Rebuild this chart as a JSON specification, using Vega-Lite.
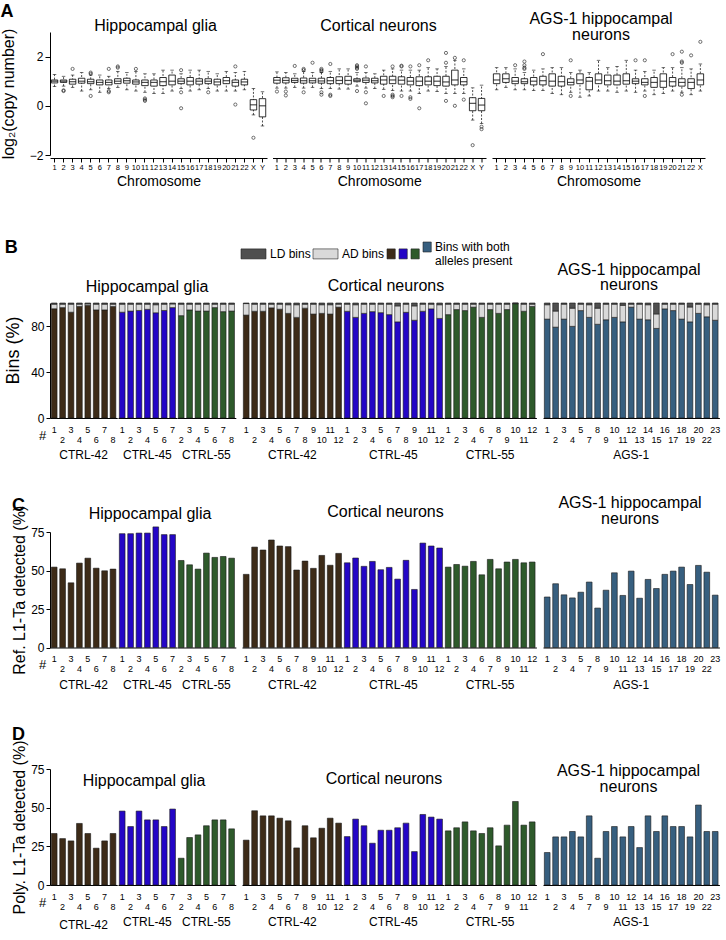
{
"$schema":"https://vega.github.io/schema/vega-lite/v6.json",
"padding":{"left":0,"top":3,"right":2,"bottom":2},
"config":{"font":"Liberation Sans","view":{"stroke":null},
 "axis":{"domainColor":"#000","tickColor":"#000","labelColor":"#000","titleColor":"#000","grid":false,"titleFontWeight":"normal","domainWidth":1,"labelFont":"Liberation Sans","titleFont":"Liberation Sans"},
 "title":{"fontWeight":"normal","color":"#000","fontSize":16,"font":"Liberation Sans"},
 "bar":{"stroke":"#1a1a1a","strokeWidth":0.6},
 "scale":{"bandPaddingInner":0.32,"bandPaddingOuter":0.16}},
"datasets":{
"box":[
{"p":"glia","chr":"1","lo":0.78,"q1":0.93,"med":1.0,"q3":1.05,"hi":1.27},
{"p":"glia","chr":"2","lo":0.8,"q1":0.95,"med":1.0,"q3":1.05,"hi":1.2},
{"p":"glia","chr":"3","lo":0.75,"q1":0.88,"med":0.98,"q3":1.08,"hi":1.25},
{"p":"glia","chr":"4","lo":0.6,"q1":0.92,"med":1.0,"q3":1.12,"hi":1.35},
{"p":"glia","chr":"5","lo":0.65,"q1":0.9,"med":0.98,"q3":1.08,"hi":1.25},
{"p":"glia","chr":"6","lo":0.55,"q1":0.85,"med":0.95,"q3":1.05,"hi":1.25},
{"p":"glia","chr":"7","lo":0.7,"q1":0.85,"med":0.95,"q3":1.05,"hi":1.2},
{"p":"glia","chr":"8","lo":0.75,"q1":0.9,"med":1.0,"q3":1.1,"hi":1.4},
{"p":"glia","chr":"9","lo":0.65,"q1":0.92,"med":1.02,"q3":1.12,"hi":1.35},
{"p":"glia","chr":"10","lo":0.6,"q1":0.88,"med":0.97,"q3":1.05,"hi":1.4},
{"p":"glia","chr":"11","lo":0.55,"q1":0.82,"med":0.95,"q3":1.05,"hi":1.3},
{"p":"glia","chr":"12","lo":0.5,"q1":0.8,"med":0.95,"q3":1.05,"hi":1.3},
{"p":"glia","chr":"13","lo":0.5,"q1":0.82,"med":0.98,"q3":1.15,"hi":1.45},
{"p":"glia","chr":"14","lo":0.6,"q1":0.85,"med":1.0,"q3":1.25,"hi":1.45},
{"p":"glia","chr":"15","lo":0.7,"q1":0.9,"med":1.0,"q3":1.1,"hi":1.3},
{"p":"glia","chr":"16","lo":0.6,"q1":0.85,"med":1.0,"q3":1.15,"hi":1.45},
{"p":"glia","chr":"17","lo":0.65,"q1":0.88,"med":1.0,"q3":1.1,"hi":1.45},
{"p":"glia","chr":"18","lo":0.7,"q1":0.9,"med":1.0,"q3":1.1,"hi":1.4},
{"p":"glia","chr":"19","lo":0.6,"q1":0.85,"med":0.97,"q3":1.08,"hi":1.3},
{"p":"glia","chr":"20","lo":0.6,"q1":0.9,"med":1.02,"q3":1.15,"hi":1.4},
{"p":"glia","chr":"21","lo":0.6,"q1":0.8,"med":0.95,"q3":1.05,"hi":1.35},
{"p":"glia","chr":"22","lo":0.65,"q1":0.85,"med":0.97,"q3":1.08,"hi":1.4},
{"p":"glia","chr":"X","lo":-0.37,"q1":-0.17,"med":0.04,"q3":0.25,"hi":0.7},
{"p":"glia","chr":"Y","lo":-0.82,"q1":-0.45,"med":0.0,"q3":0.29,"hi":0.57},
{"p":"ctx","chr":"1","lo":0.72,"q1":0.92,"med":1.04,"q3":1.15,"hi":1.38},
{"p":"ctx","chr":"2","lo":0.72,"q1":0.93,"med":1.03,"q3":1.14,"hi":1.35},
{"p":"ctx","chr":"3","lo":0.75,"q1":0.95,"med":1.03,"q3":1.12,"hi":1.3},
{"p":"ctx","chr":"4","lo":0.72,"q1":0.92,"med":1.02,"q3":1.13,"hi":1.4},
{"p":"ctx","chr":"5","lo":0.75,"q1":0.93,"med":1.02,"q3":1.12,"hi":1.35},
{"p":"ctx","chr":"6","lo":0.7,"q1":0.92,"med":1.01,"q3":1.12,"hi":1.35},
{"p":"ctx","chr":"7","lo":0.7,"q1":0.9,"med":1.02,"q3":1.15,"hi":1.4},
{"p":"ctx","chr":"8","lo":0.68,"q1":0.9,"med":1.03,"q3":1.18,"hi":1.5},
{"p":"ctx","chr":"9","lo":0.68,"q1":0.88,"med":1.03,"q3":1.2,"hi":1.5},
{"p":"ctx","chr":"10","lo":0.8,"q1":0.98,"med":1.04,"q3":1.1,"hi":1.35},
{"p":"ctx","chr":"11","lo":0.72,"q1":0.95,"med":1.04,"q3":1.13,"hi":1.35},
{"p":"ctx","chr":"12","lo":0.7,"q1":0.93,"med":1.02,"q3":1.12,"hi":1.3},
{"p":"ctx","chr":"13","lo":0.67,"q1":0.88,"med":1.05,"q3":1.2,"hi":1.45},
{"p":"ctx","chr":"14","lo":0.62,"q1":0.9,"med":1.05,"q3":1.2,"hi":1.5},
{"p":"ctx","chr":"15","lo":0.6,"q1":0.88,"med":1.04,"q3":1.18,"hi":1.45},
{"p":"ctx","chr":"16","lo":0.6,"q1":0.85,"med":1.0,"q3":1.15,"hi":1.45},
{"p":"ctx","chr":"17","lo":0.5,"q1":0.82,"med":1.0,"q3":1.18,"hi":1.45},
{"p":"ctx","chr":"18","lo":0.6,"q1":0.85,"med":1.0,"q3":1.18,"hi":1.55},
{"p":"ctx","chr":"19","lo":0.58,"q1":0.82,"med":1.0,"q3":1.2,"hi":1.5},
{"p":"ctx","chr":"20","lo":0.5,"q1":0.8,"med":0.97,"q3":1.2,"hi":1.6},
{"p":"ctx","chr":"21","lo":0.5,"q1":0.85,"med":1.05,"q3":1.45,"hi":1.85},
{"p":"ctx","chr":"22","lo":0.5,"q1":0.85,"med":0.98,"q3":1.15,"hi":1.5},
{"p":"ctx","chr":"X","lo":-0.58,"q1":-0.2,"med":0.1,"q3":0.33,"hi":0.73},
{"p":"ctx","chr":"Y","lo":-0.72,"q1":-0.2,"med":0.03,"q3":0.3,"hi":0.84},
{"p":"ags","chr":"1","lo":0.65,"q1":0.9,"med":1.05,"q3":1.3,"hi":1.55},
{"p":"ags","chr":"2","lo":0.75,"q1":0.95,"med":1.1,"q3":1.3,"hi":1.55},
{"p":"ags","chr":"3","lo":0.65,"q1":0.9,"med":1.0,"q3":1.15,"hi":1.5},
{"p":"ags","chr":"4","lo":0.65,"q1":0.9,"med":0.98,"q3":1.1,"hi":1.35},
{"p":"ags","chr":"5","lo":0.62,"q1":0.85,"med":1.0,"q3":1.15,"hi":1.45},
{"p":"ags","chr":"6","lo":0.62,"q1":0.85,"med":1.02,"q3":1.2,"hi":1.5},
{"p":"ags","chr":"7","lo":0.5,"q1":0.8,"med":1.0,"q3":1.3,"hi":1.55},
{"p":"ags","chr":"8","lo":0.45,"q1":0.8,"med":0.98,"q3":1.2,"hi":1.55},
{"p":"ags","chr":"9","lo":0.55,"q1":0.85,"med":0.95,"q3":1.1,"hi":1.35},
{"p":"ags","chr":"10","lo":0.35,"q1":0.9,"med":1.05,"q3":1.3,"hi":1.45},
{"p":"ags","chr":"11","lo":0.4,"q1":0.65,"med":1.0,"q3":1.15,"hi":1.35},
{"p":"ags","chr":"12","lo":0.6,"q1":0.9,"med":1.05,"q3":1.3,"hi":1.85},
{"p":"ags","chr":"13","lo":0.6,"q1":0.85,"med":1.02,"q3":1.25,"hi":1.55},
{"p":"ags","chr":"14","lo":0.55,"q1":0.85,"med":1.0,"q3":1.25,"hi":1.6},
{"p":"ags","chr":"15","lo":0.6,"q1":0.88,"med":1.02,"q3":1.3,"hi":1.85},
{"p":"ags","chr":"16","lo":0.55,"q1":0.9,"med":1.0,"q3":1.1,"hi":1.45},
{"p":"ags","chr":"17","lo":0.6,"q1":0.85,"med":0.95,"q3":1.1,"hi":1.4},
{"p":"ags","chr":"18","lo":0.45,"q1":0.75,"med":0.95,"q3":1.15,"hi":1.45},
{"p":"ags","chr":"19","lo":0.5,"q1":0.75,"med":1.0,"q3":1.3,"hi":1.55},
{"p":"ags","chr":"20","lo":0.6,"q1":0.8,"med":0.98,"q3":1.15,"hi":1.55},
{"p":"ags","chr":"21","lo":0.55,"q1":0.8,"med":0.95,"q3":1.1,"hi":1.55},
{"p":"ags","chr":"22","lo":0.45,"q1":0.7,"med":0.95,"q3":1.1,"hi":1.5},
{"p":"ags","chr":"X","lo":0.6,"q1":0.85,"med":1.05,"q3":1.3,"hi":1.7}
],
"out":[
{"p":"glia","chr":"2","v":0.6},{"p":"glia","chr":"2","v":0.63},{"p":"glia","chr":"3","v":1.5},
{"p":"glia","chr":"5","v":1.35},{"p":"glia","chr":"5","v":1.3},{"p":"glia","chr":"5","v":0.4},
{"p":"glia","chr":"7","v":1.5},{"p":"glia","chr":"7","v":0.6},{"p":"glia","chr":"7","v":0.55},
{"p":"glia","chr":"8","v":1.6},{"p":"glia","chr":"8","v":1.55},{"p":"glia","chr":"10","v":1.5},
{"p":"glia","chr":"11","v":0.3},{"p":"glia","chr":"11","v":0.25},{"p":"glia","chr":"11","v":0.2},
{"p":"glia","chr":"15","v":1.45},{"p":"glia","chr":"15","v":0.55},{"p":"glia","chr":"15","v":-0.1},
{"p":"glia","chr":"18","v":0.55},{"p":"glia","chr":"21","v":1.6},{"p":"glia","chr":"21","v":0.05},
{"p":"glia","chr":"X","v":-1.3},
{"p":"ctx","chr":"1","v":0.58},{"p":"ctx","chr":"2","v":0.58},{"p":"ctx","chr":"2","v":0.42},
{"p":"ctx","chr":"3","v":1.62},{"p":"ctx","chr":"4","v":1.5},{"p":"ctx","chr":"4","v":1.45},{"p":"ctx","chr":"4","v":0.55},
{"p":"ctx","chr":"5","v":1.75},{"p":"ctx","chr":"6","v":1.5},{"p":"ctx","chr":"6","v":1.45},{"p":"ctx","chr":"6","v":1.4},
{"p":"ctx","chr":"6","v":0.55},{"p":"ctx","chr":"6","v":0.45},{"p":"ctx","chr":"7","v":1.7},{"p":"ctx","chr":"7","v":0.45},
{"p":"ctx","chr":"7","v":0.4},{"p":"ctx","chr":"10","v":1.55},{"p":"ctx","chr":"10","v":1.6},{"p":"ctx","chr":"10","v":1.65},
{"p":"ctx","chr":"10","v":1.5},{"p":"ctx","chr":"10","v":0.6},{"p":"ctx","chr":"11","v":1.6},{"p":"ctx","chr":"11","v":0.55},
{"p":"ctx","chr":"11","v":0.1},{"p":"ctx","chr":"13","v":0.4},{"p":"ctx","chr":"14","v":1.6},{"p":"ctx","chr":"14","v":0.45},
{"p":"ctx","chr":"14","v":0.4},{"p":"ctx","chr":"14","v":0.35},{"p":"ctx","chr":"15","v":1.6},{"p":"ctx","chr":"15","v":1.63},
{"p":"ctx","chr":"15","v":0.4},{"p":"ctx","chr":"16","v":1.6},{"p":"ctx","chr":"16","v":0.35},{"p":"ctx","chr":"16","v":0.28},
{"p":"ctx","chr":"17","v":1.65},{"p":"ctx","chr":"17","v":-0.1},{"p":"ctx","chr":"18","v":1.85},{"p":"ctx","chr":"20","v":2.15},
{"p":"ctx","chr":"20","v":1.75},{"p":"ctx","chr":"20","v":0.2},{"p":"ctx","chr":"21","v":1.95},{"p":"ctx","chr":"21","v":0.0},
{"p":"ctx","chr":"22","v":1.85},{"p":"ctx","chr":"22","v":0.25},{"p":"ctx","chr":"X","v":-1.6},{"p":"ctx","chr":"Y","v":-0.95},
{"p":"ctx","chr":"Y","v":-0.85},
{"p":"ags","chr":"3","v":1.65},{"p":"ags","chr":"4","v":1.8},{"p":"ags","chr":"4","v":1.65},{"p":"ags","chr":"4","v":1.55},
{"p":"ags","chr":"4","v":1.5},{"p":"ags","chr":"6","v":2.1},{"p":"ags","chr":"9","v":1.85},{"p":"ags","chr":"9","v":0.4},
{"p":"ags","chr":"16","v":1.85},{"p":"ags","chr":"17","v":1.85},{"p":"ags","chr":"17","v":0.4},{"p":"ags","chr":"20","v":2.1},
{"p":"ags","chr":"21","v":2.2},{"p":"ags","chr":"21","v":1.8},{"p":"ags","chr":"21","v":1.75},{"p":"ags","chr":"21","v":0.45},
{"p":"ags","chr":"22","v":2.05},{"p":"ags","chr":"X","v":2.6}
],
"bins":[
{"p":"glia","g":"CTRL-42","c":1,"b":95,"a":99},{"p":"glia","g":"CTRL-42","c":2,"b":96,"a":99},{"p":"glia","g":"CTRL-42","c":3,"b":92,"a":99},{"p":"glia","g":"CTRL-42","c":4,"b":97,"a":99},
{"p":"glia","g":"CTRL-42","c":5,"b":98,"a":99.3},{"p":"glia","g":"CTRL-42","c":6,"b":94,"a":99},{"p":"glia","g":"CTRL-42","c":7,"b":94,"a":99},{"p":"glia","g":"CTRL-42","c":8,"b":97,"a":99},
{"p":"glia","g":"CTRL-45","c":1,"b":92,"a":99},{"p":"glia","g":"CTRL-45","c":2,"b":93,"a":99},{"p":"glia","g":"CTRL-45","c":3,"b":93.5,"a":99},{"p":"glia","g":"CTRL-45","c":4,"b":94.5,"a":99},
{"p":"glia","g":"CTRL-45","c":5,"b":91.5,"a":98.5},{"p":"glia","g":"CTRL-45","c":6,"b":93.5,"a":99},{"p":"glia","g":"CTRL-45","c":7,"b":96,"a":99.2},
{"p":"glia","g":"CTRL-55","c":2,"b":89,"a":99},{"p":"glia","g":"CTRL-55","c":3,"b":94,"a":99},{"p":"glia","g":"CTRL-55","c":4,"b":93,"a":99},{"p":"glia","g":"CTRL-55","c":5,"b":93,"a":99},
{"p":"glia","g":"CTRL-55","c":6,"b":96,"a":99},{"p":"glia","g":"CTRL-55","c":7,"b":92.5,"a":99},{"p":"glia","g":"CTRL-55","c":8,"b":93,"a":99},
{"p":"ctx","g":"CTRL-42","c":1,"b":89.5,"a":99.5},{"p":"ctx","g":"CTRL-42","c":2,"b":92.8,"a":99},{"p":"ctx","g":"CTRL-42","c":3,"b":92.8,"a":99},{"p":"ctx","g":"CTRL-42","c":4,"b":95.8,"a":99},
{"p":"ctx","g":"CTRL-42","c":5,"b":94.6,"a":99},{"p":"ctx","g":"CTRL-42","c":6,"b":91,"a":98.5},{"p":"ctx","g":"CTRL-42","c":7,"b":87.5,"a":98.5},{"p":"ctx","g":"CTRL-42","c":8,"b":95.5,"a":99},
{"p":"ctx","g":"CTRL-42","c":9,"b":90.4,"a":99},{"p":"ctx","g":"CTRL-42","c":10,"b":91,"a":98.5},{"p":"ctx","g":"CTRL-42","c":11,"b":90.4,"a":98.5},{"p":"ctx","g":"CTRL-42","c":12,"b":96.4,"a":99},
{"p":"ctx","g":"CTRL-45","c":1,"b":92.8,"a":99},{"p":"ctx","g":"CTRL-45","c":2,"b":87.5,"a":98.5},{"p":"ctx","g":"CTRL-45","c":3,"b":91,"a":99},{"p":"ctx","g":"CTRL-45","c":4,"b":92.5,"a":99},
{"p":"ctx","g":"CTRL-45","c":5,"b":91.6,"a":99},{"p":"ctx","g":"CTRL-45","c":6,"b":89.9,"a":99},{"p":"ctx","g":"CTRL-45","c":7,"b":83.6,"a":97.5},{"p":"ctx","g":"CTRL-45","c":8,"b":91.9,"a":99},
{"p":"ctx","g":"CTRL-45","c":9,"b":85,"a":97.5},{"p":"ctx","g":"CTRL-45","c":10,"b":92.8,"a":99},{"p":"ctx","g":"CTRL-45","c":11,"b":94.9,"a":99},{"p":"ctx","g":"CTRL-45","c":12,"b":86.6,"a":98.5},
{"p":"ctx","g":"CTRL-55","c":1,"b":89.9,"a":99},{"p":"ctx","g":"CTRL-55","c":2,"b":94.3,"a":99},{"p":"ctx","g":"CTRL-55","c":3,"b":93.4,"a":99},{"p":"ctx","g":"CTRL-55","c":4,"b":96.4,"a":99},
{"p":"ctx","g":"CTRL-55","c":6,"b":87.5,"a":99},{"p":"ctx","g":"CTRL-55","c":7,"b":94.3,"a":99},{"p":"ctx","g":"CTRL-55","c":8,"b":91,"a":99},{"p":"ctx","g":"CTRL-55","c":9,"b":94.3,"a":99},
{"p":"ctx","g":"CTRL-55","c":10,"b":99.4,"a":99.8},{"p":"ctx","g":"CTRL-55","c":11,"b":92.8,"a":99},{"p":"ctx","g":"CTRL-55","c":12,"b":97,"a":99},
{"p":"ags","g":"AGS-1","c":1,"b":86,"a":98.5},{"p":"ags","g":"AGS-1","c":2,"b":79,"a":93},{"p":"ags","g":"AGS-1","c":3,"b":86,"a":99},{"p":"ags","g":"AGS-1","c":4,"b":79.7,"a":95.5},
{"p":"ags","g":"AGS-1","c":5,"b":93.4,"a":99},{"p":"ags","g":"AGS-1","c":7,"b":87.5,"a":98.5},{"p":"ags","g":"AGS-1","c":8,"b":81.5,"a":95.5},{"p":"ags","g":"AGS-1","c":9,"b":85.4,"a":99},
{"p":"ags","g":"AGS-1","c":10,"b":87.5,"a":99},{"p":"ags","g":"AGS-1","c":11,"b":83.6,"a":98},{"p":"ags","g":"AGS-1","c":12,"b":96.4,"a":99},{"p":"ags","g":"AGS-1","c":13,"b":86,"a":99},
{"p":"ags","g":"AGS-1","c":14,"b":85.4,"a":98.5},{"p":"ags","g":"AGS-1","c":15,"b":77.9,"a":90.5},{"p":"ags","g":"AGS-1","c":16,"b":94.9,"a":99},{"p":"ags","g":"AGS-1","c":17,"b":93.4,"a":99},
{"p":"ags","g":"AGS-1","c":18,"b":86,"a":99},{"p":"ags","g":"AGS-1","c":19,"b":83.6,"a":96.5},{"p":"ags","g":"AGS-1","c":20,"b":91,"a":99},{"p":"ags","g":"AGS-1","c":22,"b":88,"a":98.5},
{"p":"ags","g":"AGS-1","c":23,"b":85,"a":99}
],
"l1":[
{"p":"glia","g":"CTRL-42","c":1,"r":52.2,"y":33.3},{"p":"glia","g":"CTRL-42","c":2,"r":51.1,"y":30},{"p":"glia","g":"CTRL-42","c":3,"r":42,"y":28.5},{"p":"glia","g":"CTRL-42","c":4,"r":54.8,"y":39.8},
{"p":"glia","g":"CTRL-42","c":5,"r":58,"y":33.3},{"p":"glia","g":"CTRL-42","c":6,"r":51.5,"y":23.8},{"p":"glia","g":"CTRL-42","c":7,"r":49.8,"y":28.5},{"p":"glia","g":"CTRL-42","c":8,"r":50.9,"y":33.3},
{"p":"glia","g":"CTRL-45","c":1,"r":73.9,"y":47.8},{"p":"glia","g":"CTRL-45","c":2,"r":73.9,"y":37.8},{"p":"glia","g":"CTRL-45","c":3,"r":74.3,"y":47.8},{"p":"glia","g":"CTRL-45","c":4,"r":74.3,"y":42.1},
{"p":"glia","g":"CTRL-45","c":5,"r":78.3,"y":42.1},{"p":"glia","g":"CTRL-45","c":6,"r":73.3,"y":37.8},{"p":"glia","g":"CTRL-45","c":7,"r":73.3,"y":49.1},
{"p":"glia","g":"CTRL-55","c":2,"r":56.5,"y":17.3},{"p":"glia","g":"CTRL-55","c":3,"r":53.7,"y":30.7},{"p":"glia","g":"CTRL-55","c":4,"r":50.9,"y":32.4},{"p":"glia","g":"CTRL-55","c":5,"r":61.3,"y":38.3},
{"p":"glia","g":"CTRL-55","c":6,"r":58.5,"y":42.1},{"p":"glia","g":"CTRL-55","c":7,"r":59.1,"y":42.1},{"p":"glia","g":"CTRL-55","c":8,"r":58,"y":36.3},
{"p":"ctx","g":"CTRL-42","c":1,"r":47.5,"y":29},{"p":"ctx","g":"CTRL-42","c":2,"r":65.2,"y":48},{"p":"ctx","g":"CTRL-42","c":3,"r":63.3,"y":44.7},{"p":"ctx","g":"CTRL-42","c":4,"r":69.8,"y":44.7},
{"p":"ctx","g":"CTRL-42","c":5,"r":65.9,"y":43.2},{"p":"ctx","g":"CTRL-42","c":6,"r":65.5,"y":41.5},{"p":"ctx","g":"CTRL-42","c":7,"r":50.3,"y":24},{"p":"ctx","g":"CTRL-42","c":8,"r":56.1,"y":38.3},
{"p":"ctx","g":"CTRL-42","c":9,"r":51.4,"y":30.5},{"p":"ctx","g":"CTRL-42","c":10,"r":59.8,"y":36.7},{"p":"ctx","g":"CTRL-42","c":11,"r":53.4,"y":43.2},{"p":"ctx","g":"CTRL-42","c":12,"r":61.1,"y":40},
{"p":"ctx","g":"CTRL-45","c":1,"r":55,"y":31.3},{"p":"ctx","g":"CTRL-45","c":2,"r":58.1,"y":42.6},{"p":"ctx","g":"CTRL-45","c":3,"r":52.7,"y":38.3},{"p":"ctx","g":"CTRL-45","c":4,"r":55.9,"y":27},
{"p":"ctx","g":"CTRL-45","c":5,"r":50.5,"y":35.4},{"p":"ctx","g":"CTRL-45","c":6,"r":52,"y":35.4},{"p":"ctx","g":"CTRL-45","c":7,"r":44.4,"y":37},{"p":"ctx","g":"CTRL-45","c":8,"r":56.6,"y":40},
{"p":"ctx","g":"CTRL-45","c":9,"r":37.7,"y":21.6},{"p":"ctx","g":"CTRL-45","c":10,"r":67.8,"y":45.6},{"p":"ctx","g":"CTRL-45","c":11,"r":65.9,"y":43.9},{"p":"ctx","g":"CTRL-45","c":12,"r":64.6,"y":42.6},
{"p":"ctx","g":"CTRL-55","c":1,"r":52.2,"y":35},{"p":"ctx","g":"CTRL-55","c":2,"r":53.9,"y":37},{"p":"ctx","g":"CTRL-55","c":3,"r":52.8,"y":40.8},{"p":"ctx","g":"CTRL-55","c":4,"r":55.9,"y":35},
{"p":"ctx","g":"CTRL-55","c":6,"r":47.2,"y":33.3},{"p":"ctx","g":"CTRL-55","c":7,"r":57.2,"y":37},{"p":"ctx","g":"CTRL-55","c":8,"r":51.1,"y":25.3},{"p":"ctx","g":"CTRL-55","c":9,"r":55.5,"y":38.7},
{"p":"ctx","g":"CTRL-55","c":10,"r":57.2,"y":54},{"p":"ctx","g":"CTRL-55","c":11,"r":55,"y":38.7},{"p":"ctx","g":"CTRL-55","c":12,"r":55.5,"y":40.8},
{"p":"ags","g":"AGS-1","c":1,"r":32.8,"y":21},{"p":"ags","g":"AGS-1","c":2,"r":41.4,"y":31.1},{"p":"ags","g":"AGS-1","c":3,"r":34.2,"y":31.1},{"p":"ags","g":"AGS-1","c":4,"r":32.2,"y":34.6},
{"p":"ags","g":"AGS-1","c":5,"r":35.9,"y":31.1},{"p":"ags","g":"AGS-1","c":7,"r":42.5,"y":44.7},{"p":"ags","g":"AGS-1","c":8,"r":25.6,"y":17.3},{"p":"ags","g":"AGS-1","c":9,"r":37.2,"y":34.6},
{"p":"ags","g":"AGS-1","c":10,"r":48.5,"y":37.8},{"p":"ags","g":"AGS-1","c":11,"r":33.8,"y":31.1},{"p":"ags","g":"AGS-1","c":12,"r":49.6,"y":37.8},{"p":"ags","g":"AGS-1","c":13,"r":32,"y":24.2},
{"p":"ags","g":"AGS-1","c":14,"r":44.2,"y":44.7},{"p":"ags","g":"AGS-1","c":15,"r":38.3,"y":34.6},{"p":"ags","g":"AGS-1","c":16,"r":47.5,"y":44.7},{"p":"ags","g":"AGS-1","c":17,"r":49.6,"y":37.8},
{"p":"ags","g":"AGS-1","c":18,"r":52.2,"y":37.8},{"p":"ags","g":"AGS-1","c":19,"r":40.9,"y":31.1},{"p":"ags","g":"AGS-1","c":20,"r":53.3,"y":51.7},{"p":"ags","g":"AGS-1","c":22,"r":48.9,"y":34.6},
{"p":"ags","g":"AGS-1","c":23,"r":34,"y":34.6}
]
},
"spacing":49,
"vconcat":[
{"title":{"text":"A","anchor":"start","frame":"bounds","fontSize":18,"fontWeight":"bold","offset":-10},
 "spacing":5.5,
 "hconcat":[
  {"title":{"text":"Hippocampal glia","align":"center","dx":105.5,"offset":-5.5,"frame":"group"},"bounds":"flush","hconcat":[
  {"width":217,"height":123,
   "data":{"name":"box"},"transform":[{"filter":"datum.p=='glia'"}],
   "encoding":{"x":{"field":"chr","type":"ordinal","sort":["1","2","3","4","5","6","7","8","9","10","11","12","13","14","15","16","17","18","19","20","21","22","X","Y"],"scale":{"paddingInner":0,"paddingOuter":0},"axis":{"title":"Chromosome","titleFontSize":14,"titlePadding":4,"labelAngle":0,"labelFontSize":7.5,"labelPadding":1,"tickSize":4,"offset":3,"labelOverlap":false}}},
   "layer":[
    {"mark":{"type":"rule","strokeDash":[2,1.5],"strokeWidth":0.7,"color":"#000"},"encoding":{"y":{"field":"lo","type":"quantitative","scale":{"domain":[-2,3],"nice":false,"zero":false},"axis":{"title":"log₂(copy number)","titleFontSize":16,"values":[-2,-1,0,1,2,3],"labelFontSize":12,"tickSize":5,"labelPadding":2,"titlePadding":12.8,"labelFlush":false}},"y2":{"field":"hi"}}},
    {"mark":{"type":"bar","fill":"#fff","stroke":"#000","strokeWidth":0.8,"size":6.5},"encoding":{"y":{"field":"q1","type":"quantitative"},"y2":{"field":"q3"}}},
    {"mark":{"type":"tick","color":"#000","size":6.5,"thickness":1.2},"encoding":{"y":{"field":"med","type":"quantitative"}}},
    {"mark":{"type":"tick","color":"#000","size":3.5,"thickness":0.8},"encoding":{"y":{"field":"lo","type":"quantitative"}}},
    {"mark":{"type":"tick","color":"#000","size":3.5,"thickness":0.8},"encoding":{"y":{"field":"hi","type":"quantitative"}}},
    {"data":{"name":"out"},"transform":[{"filter":"datum.p=='glia'"}],"mark":{"type":"point","shape":"circle","filled":false,"size":10,"strokeWidth":0.8,"color":"#000"},"encoding":{"y":{"field":"v","type":"quantitative"}}}
   ]}]},
  {"title":{"text":"Cortical neurons","align":"center","dx":106,"offset":-1.5,"frame":"group"},"bounds":"flush","hconcat":[
  {"width":213.5,"height":123,
   "data":{"name":"box"},"transform":[{"filter":"datum.p=='ctx'"}],
   "encoding":{"x":{"field":"chr","type":"ordinal","sort":["1","2","3","4","5","6","7","8","9","10","11","12","13","14","15","16","17","18","19","20","21","22","X","Y"],"scale":{"paddingInner":0,"paddingOuter":0},"axis":{"title":"Chromosome","titleFontSize":14,"titlePadding":4,"labelAngle":0,"labelFontSize":7.5,"labelPadding":1,"tickSize":4,"offset":3,"labelOverlap":false}}},
   "layer":[
    {"mark":{"type":"rule","strokeDash":[2,1.5],"strokeWidth":0.7,"color":"#000"},"encoding":{"y":{"field":"lo","type":"quantitative","scale":{"domain":[-2,3],"nice":false,"zero":false},"axis":null},"y2":{"field":"hi"}}},
    {"mark":{"type":"bar","fill":"#fff","stroke":"#000","strokeWidth":0.8,"size":6.5},"encoding":{"y":{"field":"q1","type":"quantitative","axis":null},"y2":{"field":"q3"}}},
    {"mark":{"type":"tick","color":"#000","size":6.5,"thickness":1.2},"encoding":{"y":{"field":"med","type":"quantitative","axis":null}}},
    {"mark":{"type":"tick","color":"#000","size":3.5,"thickness":0.8},"encoding":{"y":{"field":"lo","type":"quantitative","axis":null}}},
    {"mark":{"type":"tick","color":"#000","size":3.5,"thickness":0.8},"encoding":{"y":{"field":"hi","type":"quantitative","axis":null}}},
    {"data":{"name":"out"},"transform":[{"filter":"datum.p=='ctx'"}],"mark":{"type":"point","shape":"circle","filled":false,"size":10,"strokeWidth":0.8,"color":"#000"},"encoding":{"y":{"field":"v","type":"quantitative","axis":null}}}
   ]}]},
  {"title":{"text":["AGS-1 hippocampal","neurons"],"align":"center","dx":109,"lineHeight":15.5,"offset":-10.5,"frame":"group"},"bounds":"flush","hconcat":[
  {"width":213,"height":123,
   "data":{"name":"box"},"transform":[{"filter":"datum.p=='ags'"}],
   "encoding":{"x":{"field":"chr","type":"ordinal","sort":["1","2","3","4","5","6","7","8","9","10","11","12","13","14","15","16","17","18","19","20","21","22","X"],"scale":{"paddingInner":0,"paddingOuter":0},"axis":{"title":"Chromosome","titleFontSize":14,"titlePadding":4,"labelAngle":0,"labelFontSize":7.5,"labelPadding":1,"tickSize":4,"offset":3,"labelOverlap":false}}},
   "layer":[
    {"mark":{"type":"rule","strokeDash":[2,1.5],"strokeWidth":0.7,"color":"#000"},"encoding":{"y":{"field":"lo","type":"quantitative","scale":{"domain":[-2,3],"nice":false,"zero":false},"axis":null},"y2":{"field":"hi"}}},
    {"mark":{"type":"bar","fill":"#fff","stroke":"#000","strokeWidth":0.8,"size":6.5},"encoding":{"y":{"field":"q1","type":"quantitative","axis":null},"y2":{"field":"q3"}}},
    {"mark":{"type":"tick","color":"#000","size":6.5,"thickness":1.2},"encoding":{"y":{"field":"med","type":"quantitative","axis":null}}},
    {"mark":{"type":"tick","color":"#000","size":3.5,"thickness":0.8},"encoding":{"y":{"field":"lo","type":"quantitative","axis":null}}},
    {"mark":{"type":"tick","color":"#000","size":3.5,"thickness":0.8},"encoding":{"y":{"field":"hi","type":"quantitative","axis":null}}},
    {"data":{"name":"out"},"transform":[{"filter":"datum.p=='ags'"}],"mark":{"type":"point","shape":"circle","filled":false,"size":10,"strokeWidth":0.8,"color":"#000"},"encoding":{"y":{"field":"v","type":"quantitative","axis":null}}}
   ]}]}
 ]},
{"spacing":34,"vconcat":[
 {"title":{"text":"B","anchor":"start","frame":"bounds","fontSize":18,"fontWeight":"bold","offset":5},
  "spacing":6,
  "hconcat":[
   {"title":{"text":"Hippocampal glia","align":"center","dx":97,"offset":7.5,"frame":"group"},"bounds":"flush","spacing":0,"hconcat":[
    {"data":{"name":"bins"},"transform":[{"filter":"datum.p=='glia'&&datum.g=='CTRL-42'"}],"width":{"step":8.4},"height":115,
     "title":{"text":"CTRL-42","orient":"bottom","fontSize":12,"offset":6,"frame":"group"},
     "encoding":{"x":{"field":"c","type":"ordinal","axis":{"title":"#","titleX":-8,"titleY":17,"titleAngle":0,"titleFontSize":13,"titleBaseline":"middle","titleAlign":"center","labelAngle":0,"labelFontSize":9,"ticks":false,"labelPadding":14,"labelLineHeight":15,"labelBaseline":{"condition":{"test":"round(datum.index*7)%2==1","value":"line-top"},"value":"alphabetic"}}}},
     "layer":[
      {"mark":"bar","encoding":{"y":{"field":"b","type":"quantitative","scale":{"domain":[0,100]},"axis":{"title":"Bins (%)","titleFontSize":18,"values":[0,20,40,60,80,100],"labelFontSize":12,"tickSize":4,"labelPadding":2,"titlePadding":8,"titleY":47,"labelFlush":false}},
        "color":{"field":"g","type":"nominal","scale":{"domain":["LD bins","AD bins","CTRL-42","CTRL-45","CTRL-55","AGS-1"],"range":["#4f4f4f","#d9d9d9","#3d2b18","#2406c6","#2e5a2b","#375f7f"]},
         "legend":{"orient":"none","legendX":210,"legendY":209,"direction":"horizontal","title":null,"symbolType":{"expr":"(datum.value=='LD bins'||datum.value=='AD bins') ? 'M-5,-1H0V1H-5Z' : datum.value=='AGS-1' ? 'M-1.6,-1H0.05V1H-1.6Z' : 'M-1,-1H0.65V1H-1Z'"},"symbolSize":100,"symbolStrokeColor":"#222","symbolStrokeWidth":0.8,"symbolOpacity":1,"labelFontSize":12,"labelOffset":-2,"columnPadding":0,"labelColor":"#000","labelLimit":300,
          "labelExpr":"datum.value=='LD bins' ? 'LD bins     ' : datum.value=='AD bins' ? 'AD bins     ' : datum.value=='AGS-1' ? ['Bins with both','alleles present'] : ''"}}}},
      {"mark":"bar","encoding":{"y":{"field":"b","type":"quantitative"},"y2":{"field":"a"},"color":{"datum":"AD bins","type":"nominal","scale":{"domain":["LD bins","AD bins","CTRL-42","CTRL-45","CTRL-55","AGS-1"],"range":["#4f4f4f","#d9d9d9","#3d2b18","#2406c6","#2e5a2b","#375f7f"]},"legend":null}}},
      {"mark":"bar","encoding":{"y":{"field":"a","type":"quantitative"},"y2":{"datum":100},"color":{"datum":"LD bins","type":"nominal","scale":{"domain":["LD bins","AD bins","CTRL-42","CTRL-45","CTRL-55","AGS-1"],"range":["#4f4f4f","#d9d9d9","#3d2b18","#2406c6","#2e5a2b","#375f7f"]},"legend":null}}}
     ]},
    {"data":{"name":"bins"},"transform":[{"filter":"datum.p=='glia'&&datum.g=='CTRL-45'"}],"width":{"step":8.4},"height":115,
     "title":{"text":"CTRL-45","orient":"bottom","fontSize":12,"offset":6,"frame":"group"},
     "encoding":{"x":{"field":"c","type":"ordinal","axis":{"title":null,"labelAngle":0,"labelFontSize":9,"ticks":false,"labelPadding":14,"labelLineHeight":15,"labelBaseline":{"condition":{"test":"round(datum.index*6)%2==1","value":"line-top"},"value":"alphabetic"}}}},
     "layer":[
      {"mark":"bar","encoding":{"y":{"field":"b","type":"quantitative","scale":{"domain":[0,100]},"axis":null},"color":{"field":"g","type":"nominal","scale":{"domain":["LD bins","AD bins","CTRL-42","CTRL-45","CTRL-55","AGS-1"],"range":["#4f4f4f","#d9d9d9","#3d2b18","#2406c6","#2e5a2b","#375f7f"]},"legend":null}}},
      {"mark":"bar","encoding":{"y":{"field":"b","type":"quantitative","axis":null},"y2":{"field":"a"},"color":{"datum":"AD bins","type":"nominal","scale":{"domain":["LD bins","AD bins","CTRL-42","CTRL-45","CTRL-55","AGS-1"],"range":["#4f4f4f","#d9d9d9","#3d2b18","#2406c6","#2e5a2b","#375f7f"]},"legend":null}}},
      {"mark":"bar","encoding":{"y":{"field":"a","type":"quantitative","axis":null},"y2":{"datum":100},"color":{"datum":"LD bins","type":"nominal","scale":{"domain":["LD bins","AD bins","CTRL-42","CTRL-45","CTRL-55","AGS-1"],"range":["#4f4f4f","#d9d9d9","#3d2b18","#2406c6","#2e5a2b","#375f7f"]},"legend":null}}}
     ]},
    {"data":{"name":"bins"},"transform":[{"filter":"datum.p=='glia'&&datum.g=='CTRL-55'"}],"width":{"step":8.4},"height":115,
     "title":{"text":"CTRL-55","orient":"bottom","fontSize":12,"offset":6,"frame":"group"},
     "encoding":{"x":{"field":"c","type":"ordinal","axis":{"title":null,"labelAngle":0,"labelFontSize":9,"ticks":false,"labelPadding":14,"labelLineHeight":15,"labelBaseline":{"condition":{"test":"round(datum.index*6)%2==0","value":"line-top"},"value":"alphabetic"}}}},
     "layer":[
      {"mark":"bar","encoding":{"y":{"field":"b","type":"quantitative","scale":{"domain":[0,100]},"axis":null},"color":{"field":"g","type":"nominal","scale":{"domain":["LD bins","AD bins","CTRL-42","CTRL-45","CTRL-55","AGS-1"],"range":["#4f4f4f","#d9d9d9","#3d2b18","#2406c6","#2e5a2b","#375f7f"]},"legend":null}}},
      {"mark":"bar","encoding":{"y":{"field":"b","type":"quantitative","axis":null},"y2":{"field":"a"},"color":{"datum":"AD bins","type":"nominal","scale":{"domain":["LD bins","AD bins","CTRL-42","CTRL-45","CTRL-55","AGS-1"],"range":["#4f4f4f","#d9d9d9","#3d2b18","#2406c6","#2e5a2b","#375f7f"]},"legend":null}}},
      {"mark":"bar","encoding":{"y":{"field":"a","type":"quantitative","axis":null},"y2":{"datum":100},"color":{"datum":"LD bins","type":"nominal","scale":{"domain":["LD bins","AD bins","CTRL-42","CTRL-45","CTRL-55","AGS-1"],"range":["#4f4f4f","#d9d9d9","#3d2b18","#2406c6","#2e5a2b","#375f7f"]},"legend":null}}}
     ]}
   ]},
   {"title":{"text":"Cortical neurons","align":"center","dx":144,"offset":8.5,"frame":"group"},"bounds":"flush","spacing":0,"hconcat":[
    {"data":{"name":"bins"},"transform":[{"filter":"datum.p=='ctx'&&datum.g=='CTRL-42'"}],"width":{"step":8.4},"height":115,
     "title":{"text":"CTRL-42","orient":"bottom","fontSize":12,"offset":6,"frame":"group"},
     "encoding":{"x":{"field":"c","type":"ordinal","axis":{"title":null,"labelAngle":0,"labelFontSize":9,"ticks":false,"labelPadding":14,"labelLineHeight":15,"labelBaseline":{"condition":{"test":"round(datum.index*11)%2==1","value":"line-top"},"value":"alphabetic"}}}},
     "layer":[
      {"mark":"bar","encoding":{"y":{"field":"b","type":"quantitative","scale":{"domain":[0,100]},"axis":null},"color":{"field":"g","type":"nominal","scale":{"domain":["LD bins","AD bins","CTRL-42","CTRL-45","CTRL-55","AGS-1"],"range":["#4f4f4f","#d9d9d9","#3d2b18","#2406c6","#2e5a2b","#375f7f"]},"legend":null}}},
      {"mark":"bar","encoding":{"y":{"field":"b","type":"quantitative","axis":null},"y2":{"field":"a"},"color":{"datum":"AD bins","type":"nominal","scale":{"domain":["LD bins","AD bins","CTRL-42","CTRL-45","CTRL-55","AGS-1"],"range":["#4f4f4f","#d9d9d9","#3d2b18","#2406c6","#2e5a2b","#375f7f"]},"legend":null}}},
      {"mark":"bar","encoding":{"y":{"field":"a","type":"quantitative","axis":null},"y2":{"datum":100},"color":{"datum":"LD bins","type":"nominal","scale":{"domain":["LD bins","AD bins","CTRL-42","CTRL-45","CTRL-55","AGS-1"],"range":["#4f4f4f","#d9d9d9","#3d2b18","#2406c6","#2e5a2b","#375f7f"]},"legend":null}}}
     ]},
    {"data":{"name":"bins"},"transform":[{"filter":"datum.p=='ctx'&&datum.g=='CTRL-45'"}],"width":{"step":8.4},"height":115,
     "title":{"text":"CTRL-45","orient":"bottom","fontSize":12,"offset":6,"frame":"group"},
     "encoding":{"x":{"field":"c","type":"ordinal","axis":{"title":null,"labelAngle":0,"labelFontSize":9,"ticks":false,"labelPadding":14,"labelLineHeight":15,"labelBaseline":{"condition":{"test":"round(datum.index*11)%2==1","value":"line-top"},"value":"alphabetic"}}}},
     "layer":[
      {"mark":"bar","encoding":{"y":{"field":"b","type":"quantitative","scale":{"domain":[0,100]},"axis":null},"color":{"field":"g","type":"nominal","scale":{"domain":["LD bins","AD bins","CTRL-42","CTRL-45","CTRL-55","AGS-1"],"range":["#4f4f4f","#d9d9d9","#3d2b18","#2406c6","#2e5a2b","#375f7f"]},"legend":null}}},
      {"mark":"bar","encoding":{"y":{"field":"b","type":"quantitative","axis":null},"y2":{"field":"a"},"color":{"datum":"AD bins","type":"nominal","scale":{"domain":["LD bins","AD bins","CTRL-42","CTRL-45","CTRL-55","AGS-1"],"range":["#4f4f4f","#d9d9d9","#3d2b18","#2406c6","#2e5a2b","#375f7f"]},"legend":null}}},
      {"mark":"bar","encoding":{"y":{"field":"a","type":"quantitative","axis":null},"y2":{"datum":100},"color":{"datum":"LD bins","type":"nominal","scale":{"domain":["LD bins","AD bins","CTRL-42","CTRL-45","CTRL-55","AGS-1"],"range":["#4f4f4f","#d9d9d9","#3d2b18","#2406c6","#2e5a2b","#375f7f"]},"legend":null}}}
     ]},
    {"data":{"name":"bins"},"transform":[{"filter":"datum.p=='ctx'&&datum.g=='CTRL-55'"}],"width":{"step":8.4},"height":115,
     "title":{"text":"CTRL-55","orient":"bottom","fontSize":12,"offset":6,"frame":"group"},
     "encoding":{"x":{"field":"c","type":"ordinal","axis":{"title":null,"labelAngle":0,"labelFontSize":9,"ticks":false,"labelPadding":14,"labelLineHeight":15,"labelBaseline":{"condition":{"test":"round(datum.index*10)%2==1","value":"line-top"},"value":"alphabetic"}}}},
     "layer":[
      {"mark":"bar","encoding":{"y":{"field":"b","type":"quantitative","scale":{"domain":[0,100]},"axis":null},"color":{"field":"g","type":"nominal","scale":{"domain":["LD bins","AD bins","CTRL-42","CTRL-45","CTRL-55","AGS-1"],"range":["#4f4f4f","#d9d9d9","#3d2b18","#2406c6","#2e5a2b","#375f7f"]},"legend":null}}},
      {"mark":"bar","encoding":{"y":{"field":"b","type":"quantitative","axis":null},"y2":{"field":"a"},"color":{"datum":"AD bins","type":"nominal","scale":{"domain":["LD bins","AD bins","CTRL-42","CTRL-45","CTRL-55","AGS-1"],"range":["#4f4f4f","#d9d9d9","#3d2b18","#2406c6","#2e5a2b","#375f7f"]},"legend":null}}},
      {"mark":"bar","encoding":{"y":{"field":"a","type":"quantitative","axis":null},"y2":{"datum":100},"color":{"datum":"LD bins","type":"nominal","scale":{"domain":["LD bins","AD bins","CTRL-42","CTRL-45","CTRL-55","AGS-1"],"range":["#4f4f4f","#d9d9d9","#3d2b18","#2406c6","#2e5a2b","#375f7f"]},"legend":null}}}
     ]}
   ]},
   {"title":{"text":["AGS-1 hippocampal","neurons"],"align":"center","dx":86,"lineHeight":15.5,"offset":9.5,"frame":"group"},"bounds":"flush","spacing":0,"hconcat":[
    {"data":{"name":"bins"},"transform":[{"filter":"datum.p=='ags'"}],"width":{"step":8.4},"height":115,
     "title":{"text":"AGS-1","orient":"bottom","fontSize":12,"offset":6,"frame":"group"},
     "encoding":{"x":{"field":"c","type":"ordinal","axis":{"title":null,"labelAngle":0,"labelFontSize":9,"ticks":false,"labelPadding":14,"labelLineHeight":15,"labelBaseline":{"condition":{"test":"round(datum.index*20)%2==1","value":"line-top"},"value":"alphabetic"}}}},
     "layer":[
      {"mark":"bar","encoding":{"y":{"field":"b","type":"quantitative","scale":{"domain":[0,100]},"axis":null},"color":{"field":"g","type":"nominal","scale":{"domain":["LD bins","AD bins","CTRL-42","CTRL-45","CTRL-55","AGS-1"],"range":["#4f4f4f","#d9d9d9","#3d2b18","#2406c6","#2e5a2b","#375f7f"]},"legend":null}}},
      {"mark":"bar","encoding":{"y":{"field":"b","type":"quantitative","axis":null},"y2":{"field":"a"},"color":{"datum":"AD bins","type":"nominal","scale":{"domain":["LD bins","AD bins","CTRL-42","CTRL-45","CTRL-55","AGS-1"],"range":["#4f4f4f","#d9d9d9","#3d2b18","#2406c6","#2e5a2b","#375f7f"]},"legend":null}}},
      {"mark":"bar","encoding":{"y":{"field":"a","type":"quantitative","axis":null},"y2":{"datum":100},"color":{"datum":"LD bins","type":"nominal","scale":{"domain":["LD bins","AD bins","CTRL-42","CTRL-45","CTRL-55","AGS-1"],"range":["#4f4f4f","#d9d9d9","#3d2b18","#2406c6","#2e5a2b","#375f7f"]},"legend":null}}}
     ]}
   ]}
  ]},
 {"title":{"text":"C","anchor":"start","frame":"bounds","fontSize":18,"fontWeight":"bold","offset":-20},
  "spacing":6,
  "hconcat":[
   {"title":{"text":"Hippocampal glia","align":"center","dx":100,"offset":-17,"frame":"group"},"bounds":"flush","spacing":0,"hconcat":[
    {"data":{"name":"l1"},"transform":[{"filter":"datum.p=='glia'&&datum.g=='CTRL-42'"}],"width":{"step":8.4},"height":115.5,"title":{"text":"CTRL-42","orient":"bottom","fontSize":12,"offset":6,"frame":"group"},"mark":"bar",
     "encoding":{"x":{"field":"c","type":"ordinal","axis":{"title":"#","titleX":-8,"titleY":17,"titleAngle":0,"titleFontSize":13,"titleBaseline":"middle","titleAlign":"center","labelAngle":0,"labelFontSize":9,"ticks":false,"labelPadding":14,"labelLineHeight":15,"labelBaseline":{"condition":{"test":"round(datum.index*7)%2==1","value":"line-top"},"value":"alphabetic"}}},
      "y":{"field":"r","type":"quantitative","scale":{"domain":[0,75]},"axis":{"title":"Ref. L1-Ta detected (%)","titleFontSize":16,"values":[0,25,50,75],"labelFontSize":12,"tickSize":4,"labelPadding":2,"titlePadding":2.7,"labelFlush":false}},
      "color":{"field":"g","type":"nominal","scale":{"domain":["LD bins","AD bins","CTRL-42","CTRL-45","CTRL-55","AGS-1"],"range":["#4f4f4f","#d9d9d9","#3d2b18","#2406c6","#2e5a2b","#375f7f"]},"legend":null}}},
    {"data":{"name":"l1"},"transform":[{"filter":"datum.p=='glia'&&datum.g=='CTRL-45'"}],"width":{"step":8.4},"height":115.5,"title":{"text":"CTRL-45","orient":"bottom","fontSize":12,"offset":6,"frame":"group"},"mark":"bar",
     "encoding":{"x":{"field":"c","type":"ordinal","axis":{"title":null,"labelAngle":0,"labelFontSize":9,"ticks":false,"labelPadding":14,"labelLineHeight":15,"labelBaseline":{"condition":{"test":"round(datum.index*6)%2==1","value":"line-top"},"value":"alphabetic"}}},
      "y":{"field":"r","type":"quantitative","scale":{"domain":[0,75]},"axis":null},
      "color":{"field":"g","type":"nominal","scale":{"domain":["LD bins","AD bins","CTRL-42","CTRL-45","CTRL-55","AGS-1"],"range":["#4f4f4f","#d9d9d9","#3d2b18","#2406c6","#2e5a2b","#375f7f"]},"legend":null}}},
    {"data":{"name":"l1"},"transform":[{"filter":"datum.p=='glia'&&datum.g=='CTRL-55'"}],"width":{"step":8.4},"height":115.5,"title":{"text":"CTRL-55","orient":"bottom","fontSize":12,"offset":6,"frame":"group"},"mark":"bar",
     "encoding":{"x":{"field":"c","type":"ordinal","axis":{"title":null,"labelAngle":0,"labelFontSize":9,"ticks":false,"labelPadding":14,"labelLineHeight":15,"labelBaseline":{"condition":{"test":"round(datum.index*6)%2==0","value":"line-top"},"value":"alphabetic"}}},
      "y":{"field":"r","type":"quantitative","scale":{"domain":[0,75]},"axis":null},
      "color":{"field":"g","type":"nominal","scale":{"domain":["LD bins","AD bins","CTRL-42","CTRL-45","CTRL-55","AGS-1"],"range":["#4f4f4f","#d9d9d9","#3d2b18","#2406c6","#2e5a2b","#375f7f"]},"legend":null}}}
   ]},
   {"title":{"text":"Cortical neurons","align":"center","dx":143.5,"offset":12.5,"frame":"group"},"bounds":"flush","spacing":0,"hconcat":[
    {"data":{"name":"l1"},"transform":[{"filter":"datum.p=='ctx'&&datum.g=='CTRL-42'"}],"width":{"step":8.4},"height":115.5,"title":{"text":"CTRL-42","orient":"bottom","fontSize":12,"offset":6,"frame":"group"},"mark":"bar",
     "encoding":{"x":{"field":"c","type":"ordinal","axis":{"title":null,"labelAngle":0,"labelFontSize":9,"ticks":false,"labelPadding":14,"labelLineHeight":15,"labelBaseline":{"condition":{"test":"round(datum.index*11)%2==1","value":"line-top"},"value":"alphabetic"}}},
      "y":{"field":"r","type":"quantitative","scale":{"domain":[0,75]},"axis":null},
      "color":{"field":"g","type":"nominal","scale":{"domain":["LD bins","AD bins","CTRL-42","CTRL-45","CTRL-55","AGS-1"],"range":["#4f4f4f","#d9d9d9","#3d2b18","#2406c6","#2e5a2b","#375f7f"]},"legend":null}}},
    {"data":{"name":"l1"},"transform":[{"filter":"datum.p=='ctx'&&datum.g=='CTRL-45'"}],"width":{"step":8.4},"height":115.5,"title":{"text":"CTRL-45","orient":"bottom","fontSize":12,"offset":6,"frame":"group"},"mark":"bar",
     "encoding":{"x":{"field":"c","type":"ordinal","axis":{"title":null,"labelAngle":0,"labelFontSize":9,"ticks":false,"labelPadding":14,"labelLineHeight":15,"labelBaseline":{"condition":{"test":"round(datum.index*11)%2==1","value":"line-top"},"value":"alphabetic"}}},
      "y":{"field":"r","type":"quantitative","scale":{"domain":[0,75]},"axis":null},
      "color":{"field":"g","type":"nominal","scale":{"domain":["LD bins","AD bins","CTRL-42","CTRL-45","CTRL-55","AGS-1"],"range":["#4f4f4f","#d9d9d9","#3d2b18","#2406c6","#2e5a2b","#375f7f"]},"legend":null}}},
    {"data":{"name":"l1"},"transform":[{"filter":"datum.p=='ctx'&&datum.g=='CTRL-55'"}],"width":{"step":8.4},"height":115.5,"title":{"text":"CTRL-55","orient":"bottom","fontSize":12,"offset":6,"frame":"group"},"mark":"bar",
     "encoding":{"x":{"field":"c","type":"ordinal","axis":{"title":null,"labelAngle":0,"labelFontSize":9,"ticks":false,"labelPadding":14,"labelLineHeight":15,"labelBaseline":{"condition":{"test":"round(datum.index*10)%2==1","value":"line-top"},"value":"alphabetic"}}},
      "y":{"field":"r","type":"quantitative","scale":{"domain":[0,75]},"axis":null},
      "color":{"field":"g","type":"nominal","scale":{"domain":["LD bins","AD bins","CTRL-42","CTRL-45","CTRL-55","AGS-1"],"range":["#4f4f4f","#d9d9d9","#3d2b18","#2406c6","#2e5a2b","#375f7f"]},"legend":null}}}
   ]},
   {"title":{"text":["AGS-1 hippocampal","neurons"],"align":"center","dx":87,"lineHeight":15.5,"offset":5.5,"frame":"group"},"bounds":"flush","spacing":0,"hconcat":[
    {"data":{"name":"l1"},"transform":[{"filter":"datum.p=='ags'"}],"width":{"step":8.4},"height":115.5,"title":{"text":"AGS-1","orient":"bottom","fontSize":12,"offset":6,"frame":"group"},"mark":"bar",
     "encoding":{"x":{"field":"c","type":"ordinal","axis":{"title":null,"labelAngle":0,"labelFontSize":9,"ticks":false,"labelPadding":14,"labelLineHeight":15,"labelBaseline":{"condition":{"test":"round(datum.index*20)%2==1","value":"line-top"},"value":"alphabetic"}}},
      "y":{"field":"r","type":"quantitative","scale":{"domain":[0,75]},"axis":null},
      "color":{"field":"g","type":"nominal","scale":{"domain":["LD bins","AD bins","CTRL-42","CTRL-45","CTRL-55","AGS-1"],"range":["#4f4f4f","#d9d9d9","#3d2b18","#2406c6","#2e5a2b","#375f7f"]},"legend":null}}}
   ]}
  ]},
 {"title":{"text":"D","anchor":"start","frame":"bounds","fontSize":18,"fontWeight":"bold","offset":-4.5},
  "spacing":6,
  "hconcat":[
   {"title":{"text":"Hippocampal glia","align":"center","dx":94,"offset":-49,"frame":"group"},"bounds":"flush","spacing":0,"hconcat":[
    {"data":{"name":"l1"},"transform":[{"filter":"datum.p=='glia'&&datum.g=='CTRL-42'"}],"width":{"step":8.4},"height":116,"title":{"text":"CTRL-42","orient":"bottom","fontSize":12,"offset":6,"frame":"group"},"mark":"bar",
     "encoding":{"x":{"field":"c","type":"ordinal","axis":{"title":"#","titleX":-8,"titleY":17,"titleAngle":0,"titleFontSize":13,"titleBaseline":"middle","titleAlign":"center","labelAngle":0,"labelFontSize":9,"ticks":false,"labelPadding":14,"labelLineHeight":15,"labelBaseline":{"condition":{"test":"round(datum.index*7)%2==1","value":"line-top"},"value":"alphabetic"}}},
      "y":{"field":"y","type":"quantitative","scale":{"domain":[0,75]},"axis":{"title":"Poly. L1-Ta detected (%)","titleFontSize":16,"values":[0,25,50,75],"labelFontSize":12,"tickSize":4,"labelPadding":2,"titlePadding":2.7,"labelFlush":false}},
      "color":{"field":"g","type":"nominal","scale":{"domain":["LD bins","AD bins","CTRL-42","CTRL-45","CTRL-55","AGS-1"],"range":["#4f4f4f","#d9d9d9","#3d2b18","#2406c6","#2e5a2b","#375f7f"]},"legend":null}}},
    {"data":{"name":"l1"},"transform":[{"filter":"datum.p=='glia'&&datum.g=='CTRL-45'"}],"width":{"step":8.4},"height":116,"title":{"text":"CTRL-45","orient":"bottom","fontSize":12,"offset":6,"frame":"group"},"mark":"bar",
     "encoding":{"x":{"field":"c","type":"ordinal","axis":{"title":null,"labelAngle":0,"labelFontSize":9,"ticks":false,"labelPadding":14,"labelLineHeight":15,"labelBaseline":{"condition":{"test":"round(datum.index*6)%2==1","value":"line-top"},"value":"alphabetic"}}},
      "y":{"field":"y","type":"quantitative","scale":{"domain":[0,75]},"axis":null},
      "color":{"field":"g","type":"nominal","scale":{"domain":["LD bins","AD bins","CTRL-42","CTRL-45","CTRL-55","AGS-1"],"range":["#4f4f4f","#d9d9d9","#3d2b18","#2406c6","#2e5a2b","#375f7f"]},"legend":null}}},
    {"data":{"name":"l1"},"transform":[{"filter":"datum.p=='glia'&&datum.g=='CTRL-55'"}],"width":{"step":8.4},"height":116,"title":{"text":"CTRL-55","orient":"bottom","fontSize":12,"offset":6,"frame":"group"},"mark":"bar",
     "encoding":{"x":{"field":"c","type":"ordinal","axis":{"title":null,"labelAngle":0,"labelFontSize":9,"ticks":false,"labelPadding":14,"labelLineHeight":15,"labelBaseline":{"condition":{"test":"round(datum.index*6)%2==0","value":"line-top"},"value":"alphabetic"}}},
      "y":{"field":"y","type":"quantitative","scale":{"domain":[0,75]},"axis":null},
      "color":{"field":"g","type":"nominal","scale":{"domain":["LD bins","AD bins","CTRL-42","CTRL-45","CTRL-55","AGS-1"],"range":["#4f4f4f","#d9d9d9","#3d2b18","#2406c6","#2e5a2b","#375f7f"]},"legend":null}}}
   ]},
   {"title":{"text":"Cortical neurons","align":"center","dx":142,"offset":-17.5,"frame":"group"},"bounds":"flush","spacing":0,"hconcat":[
    {"data":{"name":"l1"},"transform":[{"filter":"datum.p=='ctx'&&datum.g=='CTRL-42'"}],"width":{"step":8.4},"height":116,"title":{"text":"CTRL-42","orient":"bottom","fontSize":12,"offset":6,"frame":"group"},"mark":"bar",
     "encoding":{"x":{"field":"c","type":"ordinal","axis":{"title":null,"labelAngle":0,"labelFontSize":9,"ticks":false,"labelPadding":14,"labelLineHeight":15,"labelBaseline":{"condition":{"test":"round(datum.index*11)%2==1","value":"line-top"},"value":"alphabetic"}}},
      "y":{"field":"y","type":"quantitative","scale":{"domain":[0,75]},"axis":null},
      "color":{"field":"g","type":"nominal","scale":{"domain":["LD bins","AD bins","CTRL-42","CTRL-45","CTRL-55","AGS-1"],"range":["#4f4f4f","#d9d9d9","#3d2b18","#2406c6","#2e5a2b","#375f7f"]},"legend":null}}},
    {"data":{"name":"l1"},"transform":[{"filter":"datum.p=='ctx'&&datum.g=='CTRL-45'"}],"width":{"step":8.4},"height":116,"title":{"text":"CTRL-45","orient":"bottom","fontSize":12,"offset":6,"frame":"group"},"mark":"bar",
     "encoding":{"x":{"field":"c","type":"ordinal","axis":{"title":null,"labelAngle":0,"labelFontSize":9,"ticks":false,"labelPadding":14,"labelLineHeight":15,"labelBaseline":{"condition":{"test":"round(datum.index*11)%2==1","value":"line-top"},"value":"alphabetic"}}},
      "y":{"field":"y","type":"quantitative","scale":{"domain":[0,75]},"axis":null},
      "color":{"field":"g","type":"nominal","scale":{"domain":["LD bins","AD bins","CTRL-42","CTRL-45","CTRL-55","AGS-1"],"range":["#4f4f4f","#d9d9d9","#3d2b18","#2406c6","#2e5a2b","#375f7f"]},"legend":null}}},
    {"data":{"name":"l1"},"transform":[{"filter":"datum.p=='ctx'&&datum.g=='CTRL-55'"}],"width":{"step":8.4},"height":116,"title":{"text":"CTRL-55","orient":"bottom","fontSize":12,"offset":6,"frame":"group"},"mark":"bar",
     "encoding":{"x":{"field":"c","type":"ordinal","axis":{"title":null,"labelAngle":0,"labelFontSize":9,"ticks":false,"labelPadding":14,"labelLineHeight":15,"labelBaseline":{"condition":{"test":"round(datum.index*10)%2==1","value":"line-top"},"value":"alphabetic"}}},
      "y":{"field":"y","type":"quantitative","scale":{"domain":[0,75]},"axis":null},
      "color":{"field":"g","type":"nominal","scale":{"domain":["LD bins","AD bins","CTRL-42","CTRL-45","CTRL-55","AGS-1"],"range":["#4f4f4f","#d9d9d9","#3d2b18","#2406c6","#2e5a2b","#375f7f"]},"legend":null}}}
   ]},
   {"title":{"text":["AGS-1 hippocampal","neurons"],"align":"center","dx":85.5,"lineHeight":15.5,"offset":-25.5,"frame":"group"},"bounds":"flush","spacing":0,"hconcat":[
    {"data":{"name":"l1"},"transform":[{"filter":"datum.p=='ags'"}],"width":{"step":8.4},"height":116,"title":{"text":"AGS-1","orient":"bottom","fontSize":12,"offset":6,"frame":"group"},"mark":"bar",
     "encoding":{"x":{"field":"c","type":"ordinal","axis":{"title":null,"labelAngle":0,"labelFontSize":9,"ticks":false,"labelPadding":14,"labelLineHeight":15,"labelBaseline":{"condition":{"test":"round(datum.index*20)%2==1","value":"line-top"},"value":"alphabetic"}}},
      "y":{"field":"y","type":"quantitative","scale":{"domain":[0,75]},"axis":null},
      "color":{"field":"g","type":"nominal","scale":{"domain":["LD bins","AD bins","CTRL-42","CTRL-45","CTRL-55","AGS-1"],"range":["#4f4f4f","#d9d9d9","#3d2b18","#2406c6","#2e5a2b","#375f7f"]},"legend":null}}}
   ]}
  ]}
]}
]
}
